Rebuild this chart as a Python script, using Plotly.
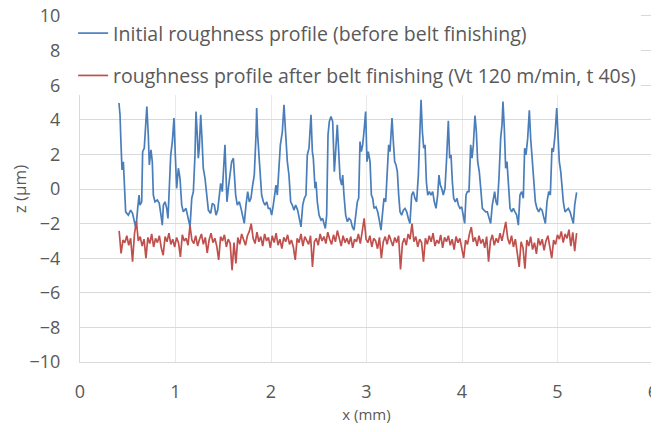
import numpy as np
import plotly.graph_objects as go

# Initial roughness profile (before belt finishing): x (mm), z (µm)
blue_x = [0.408, 0.419, 0.429, 0.44, 0.454, 0.464, 0.478, 0.506, 0.53, 0.55, 0.57, 0.586, 0.604, 0.618, 0.628, 0.646,
          0.656, 0.673, 0.69, 0.70, 0.715, 0.726, 0.743, 0.757, 0.768, 0.785, 0.81, 0.83, 0.848, 0.862, 0.873, 0.89,
          0.908, 0.921, 0.935, 0.95, 0.967, 0.984, 0.998, 1.012, 1.03, 1.047, 1.065, 1.082, 1.11, 1.134, 1.152, 1.17,
          1.187, 1.204, 1.215, 1.228, 1.239, 1.249, 1.264, 1.277, 1.291, 1.309, 1.327, 1.344, 1.368, 1.386, 1.407, 1.424,
          1.442, 1.459, 1.473, 1.49, 1.508, 1.518, 1.529, 1.539, 1.553, 1.571, 1.588, 1.606, 1.616, 1.63, 1.647, 1.668,
          1.686, 1.703, 1.72, 1.738, 1.756, 1.773, 1.79, 1.808, 1.825, 1.843, 1.85, 1.86, 1.874, 1.888, 1.902, 1.92,
          1.937, 1.955, 1.972, 1.99, 2.007, 2.024, 2.042, 2.052, 2.066, 2.084, 2.098, 2.119, 2.136, 2.154, 2.171, 2.188,
          2.206, 2.223, 2.24, 2.258, 2.279, 2.296, 2.314, 2.332, 2.349, 2.366, 2.38, 2.398, 2.419, 2.433, 2.443, 2.461,
          2.471, 2.485, 2.503, 2.524, 2.541, 2.555, 2.569, 2.583, 2.597, 2.611, 2.628, 2.646, 2.663, 2.677, 2.694, 2.709,
          2.723, 2.74, 2.751, 2.764, 2.782, 2.80, 2.817, 2.834, 2.852, 2.869, 2.887, 2.904, 2.918, 2.932, 2.946, 2.96,
          2.977, 2.991, 3.005, 3.019, 3.037, 3.051, 3.065, 3.079, 3.099, 3.117, 3.134, 3.152, 3.166, 3.183, 3.201, 3.218,
          3.232, 3.246, 3.267, 3.281, 3.295, 3.309, 3.323, 3.337, 3.351, 3.368, 3.386, 3.403, 3.421, 3.438, 3.455, 3.473,
          3.49, 3.508, 3.525, 3.543, 3.56, 3.571, 3.585, 3.599, 3.613, 3.627, 3.641, 3.658, 3.675, 3.693, 3.71, 3.728,
          3.745, 3.759, 3.773, 3.787, 3.804, 3.822, 3.839, 3.857, 3.871, 3.885, 3.899, 3.913, 3.93, 3.948, 3.962, 3.979,
          3.997, 4.014, 4.028, 4.042, 4.056, 4.073, 4.091, 4.105, 4.119, 4.136, 4.15, 4.164, 4.181, 4.199, 4.213, 4.23,
          4.248, 4.265, 4.283, 4.30, 4.317, 4.335, 4.342, 4.356, 4.37, 4.387, 4.405, 4.419, 4.429, 4.443, 4.457, 4.471,
          4.489, 4.503, 4.52, 4.538, 4.555, 4.573, 4.59, 4.607, 4.625, 4.642, 4.656, 4.67, 4.688, 4.705, 4.719, 4.736,
          4.751, 4.768, 4.785, 4.803, 4.82, 4.838, 4.855, 4.873, 4.89, 4.908, 4.925, 4.942, 4.956, 4.974, 4.992, 5.005,
          5.019, 5.034, 5.047, 5.061, 5.079, 5.096, 5.113, 5.131, 5.148, 5.166, 5.18, 5.19, 5.20]
blue_z = [4.97, 4.29, 2.65, 1.10, 1.58, 0.06, -1.32, -1.51, -1.22, -1.41, -1.89, -2.28, -1.12, -0.35, -0.93, -0.74,
          2.16, 2.36, 3.90, 4.77, 3.13, 1.39, 2.26, 1.58, -0.35, -0.74, -0.64, -0.83, -1.51, -2.09, -0.93, -0.74,
          -1.12, -1.70, 0.04, 1.97, 2.74, 4.10, 1.97, 0.04, 1.20, 0.62, -0.93, -1.32, -1.12, -1.70, -2.19, -0.54,
          -0.15, 1.97, 4.48, 3.13, 1.78, 2.36, 4.29, 2.94, 1.20, 0.62, -0.35, -1.22, -1.41, -0.83, -0.93, -1.51,
          -1.22, -0.35, 0.33, -0.15, 1.58, 2.55, 0.81, -0.74, 0.04, 1.00, 1.58, 1.78, 0.81, -0.35, -0.93, -0.74,
          -1.12, -1.51, -1.99, -0.93, -0.15, -0.74, -0.54, 0.23, 0.81, 3.13, 4.68, 3.13, 1.97, 1.20, -0.35, -0.74,
          -0.93, -0.74, -1.12, -1.12, -1.51, -0.93, -0.15, 0.23, -0.35, 1.20, 2.55, 3.32, 4.87, 3.13, 1.58, 0.81,
          -0.74, -0.93, -1.22, -0.93, -1.22, -1.70, -2.19, -0.93, -0.54, -0.35, 1.97, 2.36, 4.29, 2.16, 1.78, 0.04,
          0.42, -0.74, -1.51, -1.80, -1.70, -1.99, -2.28, -1.51, 3.13, 3.90, 4.19, 3.90, 1.00, 2.16, 3.71, 2.16,
          0.62, 0.23, 0.81, -0.35, -1.51, -1.89, -1.70, -1.80, -2.19, -2.38, -1.51, -0.74, -0.54, 2.74, 2.16, 2.55,
          3.52, 4.48, 1.58, 2.16, 1.58, -0.35, -0.54, -1.12, -1.03, -1.32, -1.80, -2.38, -1.51, -0.54, -0.74, 1.58,
          2.55, 2.16, 4.10, 2.74, 1.58, 1.39, 1.00, -0.35, -1.32, -1.51, -1.22, -1.12, -1.32, -1.70, -1.99, -0.35,
          -0.15, -0.54, -0.74, 0.81, 3.32, 5.16, 3.32, 2.36, 2.55, 0.42, -0.35, -0.15, -0.35, -0.15, -0.74, -1.12,
          -0.35, 0.81, 0.23, 0.04, -0.35, 0.04, 1.78, 3.95, 1.78, 1.97, 0.42, -0.54, -0.74, -0.54, -0.93, -1.12,
          -1.03, -1.70, -1.99, -0.35, -0.15, -0.15, 2.55, 1.78, 2.55, 4.25, 3.32, 1.58, 1.00, -0.15, -1.12, -1.22,
          -1.32, -1.32, -1.70, -1.99, -0.93, -0.35, -0.15, -0.74, -0.93, 0.62, 2.94, 3.71, 5.06, 3.52, 1.20, 1.58,
          -0.35, -1.12, -1.32, -1.12, -1.32, -1.51, -2.09, -0.35, -0.15, -0.54, 2.36, 1.97, 2.94, 4.55, 2.94, 1.58,
          0.04, -0.74, -1.12, -1.32, -1.12, -1.22, -1.61, -1.99, -0.74, -0.15, -0.35, 2.36, 2.16, 3.13, 4.68, 3.13,
          1.58, 1.00, 0.04, -0.74, -1.32, -1.22, -1.12, -1.32, -1.70, -1.99, -0.93, -0.35, -0.20]

# Roughness profile after belt finishing (Vt 120 m/min, t 40s): sampled over x range
red_x_range = [0.41, 5.2]
red_z = [
    -2.42, -3.72, -2.95, -3.10, -2.70, -3.25, -2.85, -4.20, -2.60, -1.85,
    -3.00, -2.75, -3.30, -2.90, -4.00, -2.80, -3.15, -2.60, -3.35, -2.85,
    -3.10, -2.70, -3.40, -3.83, -2.75, -3.05, -2.55, -3.20, -2.90, -3.35,
    -2.80, -3.10, -3.92, -2.65, -3.00, -2.85, -3.25, -2.10, -2.95, -3.15,
    -2.70, -3.30, -2.90, -2.60, -3.20, -2.80, -3.70, -2.95, -2.55, -3.10,
    -2.85, -3.30, -4.10, -2.75, -3.00, -2.65, -3.35, -2.90, -3.15, -4.70,
    -3.10, -4.30, -2.80, -3.20, -2.60, -2.95, -3.25, -2.70, -2.45, -2.00,
    -2.85, -3.15, -2.50, -3.05, -2.75, -3.30, -2.60, -3.00, -2.80, -3.40,
    -2.70, -3.10, -2.55, -3.25, -2.90, -3.45, -2.80, -3.05, -2.65, -3.20,
    -2.95, -3.35, -4.10, -2.85, -3.10, -2.60, -3.30, -2.75, -3.00, -3.20,
    -2.70, -4.50, -3.05, -2.85, -3.25, -2.60, -3.00, -2.75, -3.15, -2.50,
    -2.90, -3.20, -2.65, -3.05, -2.40, -2.95, -3.30, -2.70, -3.10, -2.85,
    -3.20, -2.75, -3.40, -2.90, -3.05, -2.60, -3.15, -2.45, -1.70, -2.90,
    -3.10, -2.70, -3.35, -2.85, -3.00, -3.45, -2.80, -4.00, -3.05, -2.75,
    -3.20, -2.65, -3.00, -3.30, -2.80, -3.10, -2.70, -4.65, -3.15, -2.85,
    -3.25, -2.60, -2.90, -2.00, -3.05, -2.75, -3.35, -2.90, -3.10, -4.20,
    -2.85, -3.20, -2.70, -3.05, -2.55, -3.30, -2.95, -3.15, -2.65, -3.40,
    -2.80, -3.05, -2.70, -3.25, -2.90, -3.50, -2.75, -3.10, -2.85, -3.35,
    -4.00, -2.95, -3.20, -2.60, -2.20, -3.05, -2.80, -3.30, -2.70, -3.15,
    -2.90, -3.40, -2.75, -4.20, -3.00, -2.65, -3.25, -2.85, -3.10, -2.55,
    -3.00, -2.45, -1.90, -2.85, -3.20, -2.70, -3.35, -2.90, -3.60, -4.50,
    -3.05, -3.40, -4.60, -2.95, -3.30, -2.75, -3.50, -3.10, -3.75, -2.85,
    -3.25, -2.90, -3.55, -3.00, -2.70, -3.35, -4.00, -2.95, -3.20, -2.65,
    -2.90, -2.45, -3.10, -2.60, -2.85, -2.35, -3.30, -2.50, -3.60, -2.55,
]
red_x = np.linspace(red_x_range[0], red_x_range[1], len(red_z))

x_ticks = [0, 1, 2, 3, 4, 5, 6]
y_ticks = [-10, -8, -6, -4, -2, 0, 2, 4, 6, 8, 10]

FONT = "'Open Sans', 'Noto Sans', sans-serif"
GRAY = "#595959"
GRID = "#d9d9d9"

fig = go.Figure()
fig.add_trace(go.Scatter(x=blue_x, y=blue_z, mode="lines",
                         line=dict(color="#4a7ebb", width=1.7),
                         name="Initial roughness profile (before belt finishing)",
                         legendgroup="a"))
fig.add_trace(go.Scatter(x=red_x, y=red_z, mode="lines",
                         line=dict(color="#c0504d", width=1.7),
                         name="roughness profile after belt finishing (Vt 120 m/min, t 40s)",
                         legendgroup="b"))

# the page body has an 8px margin, so the figure is offset by 8px
fig.update_layout(
    width=651, height=416,
    margin=dict(l=72, r=6, t=8, b=62, autoexpand=False),
    paper_bgcolor="white", plot_bgcolor="white",
    font=dict(family=FONT, color=GRAY),
    showlegend=True,
    legend=dict(x=-0.012, y=1.006, xanchor="left", yanchor="top",
                bgcolor="white", font=dict(size=19.5, color=GRAY, family=FONT),
                tracegroupgap=14, itemwidth=30, traceorder="grouped"),
)
fig.update_xaxes(range=[0, 6], tickvals=x_ticks, showgrid=True, gridcolor="#e8e8e8", gridwidth=1,
                 zeroline=False, showline=True, linecolor=GRID, mirror=True,
                 ticklabeloverflow="allow",
                 tickfont=dict(size=18, color=GRAY, family=FONT), ticklabelstandoff=13,
                 title=dict(text="x (mm)", font=dict(size=15, color=GRAY, family=FONT), standoff=8))
fig.update_yaxes(range=[-10, 10], tickvals=y_ticks, showgrid=True, gridcolor=GRID, gridwidth=1,
                 zeroline=False, showline=True, linecolor=GRID, mirror=True,
                 ticklabeloverflow="allow",
                 tickfont=dict(size=18, color=GRAY, family=FONT), ticklabelstandoff=15,
                 title=dict(text="z (µm)", font=dict(size=17, color=GRAY, family=FONT), standoff=26))

fig.write_html("out.html")
